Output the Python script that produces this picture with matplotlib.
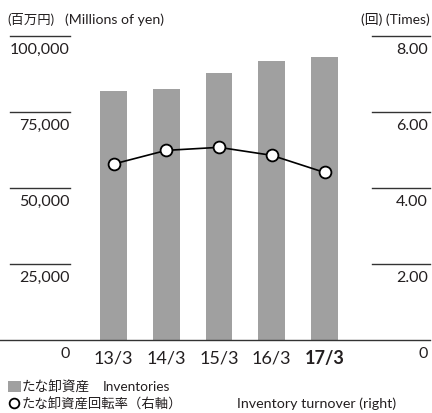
import matplotlib
matplotlib.use("Agg")
import matplotlib.pyplot as plt
from matplotlib.lines import Line2D
import numpy as np

plt.rcParams['font.family'] = ['Lato', 'Noto Sans CJK JP', 'DejaVu Sans']

# data
years = ["13/3", "14/3", "15/3", "16/3", "17/3"]
inventories = [81900, 82600, 87800, 91800, 93100]      # millions of yen
turnover = [4.63, 4.99, 5.07, 4.86, 4.41]              # times (right axis)
left_ticks = [0, 25000, 50000, 75000, 100000]
left_labels = ["0", "25,000", "50,000", "75,000", "100,000"]
right_ticks = [0, 2, 4, 6, 8]
right_labels = ["0", "2.00", "4.00", "6.00", "8.00"]

W, H = 432, 414
fig = plt.figure(figsize=(W/100., H/100.), dpi=100)

y0, y1 = 341, 37
ax = fig.add_axes([0, (H-y0)/H, 1, (y0-y1)/H])
ax.set_axis_off()
step = 52.75
ax.set_xlim(-113.5/step, (W-113.5)/step)
ax.set_ylim(0, 100000)

x = np.arange(len(years))
ax.bar(x, inventories, width=0.51, color="#a0a0a0", zorder=2)

tc = "#231f20"
tr = ax.get_yaxis_transform()
for t, lab in zip(left_ticks, left_labels):
    if t > 0:
        ax.plot([10/W, 70/W], [t, t], color="#333333", lw=1.0, transform=tr, clip_on=False)
    ax.annotate(lab, xy=(70/W, t), xycoords=tr, xytext=(0, -9.3), textcoords="offset points",
                ha="right", va="center", fontsize=11.5, color=tc)
ax.plot([0, 430/W], [0, 0], color="#333333", lw=1.0, transform=tr, clip_on=False, zorder=3)

ax2 = ax.twinx()
ax2.set_axis_off()
ax2.set_ylim(0, 8)
tr2 = ax2.get_yaxis_transform()
for t, lab in zip(right_ticks, right_labels):
    if t > 0:
        ax2.plot([372/W, 430/W], [t, t], color="#333333", lw=1.0, transform=tr2, clip_on=False)
    ax2.annotate(lab, xy=(428/W, t), xycoords=tr2, xytext=(0, -9.3), textcoords="offset points",
                 ha="right", va="center", fontsize=11.5, color=tc)

ax2.plot(x, turnover, color="black", lw=1.2, marker="o", markersize=8.5,
         markerfacecolor="white", markeredgecolor="black", markeredgewidth=1.3, zorder=4)

for i, lab in enumerate(years):
    ax.annotate(lab, xy=(i, 0), xycoords="data", xytext=(0, -12.5), textcoords="offset points",
                ha="center", va="center", fontsize=13, color=tc,
                fontweight="bold" if i == len(years)-1 else "normal")

# header units
fig.text(7/W, 1-20/H, "(百万円)", ha="left", va="center", fontsize=9.6, color=tc)
fig.text(65/W, 1-20/H, "(Millions of yen)", ha="left", va="center", fontsize=10.2, color=tc)
fig.text(430/W, 1-20/H, "(回) (Times)", ha="right", va="center", fontsize=10, color=tc)

# legend
fig.patches.append(plt.Rectangle((8/W, 1-393/H), 13/W, 11/H, transform=fig.transFigure,
                                 facecolor="#a0a0a0", edgecolor="none"))
fig.text(22/W, 1-387/H, "たな卸資産", ha="left", va="center", fontsize=9.8, color=tc)
fig.text(103/W, 1-387/H, "Inventories", ha="left", va="center", fontsize=9.8, color=tc)
fig.add_artist(Line2D([14/W], [1-404/H], transform=fig.transFigure, marker="o", markersize=7,
                      markerfacecolor="white", markeredgecolor="black", markeredgewidth=1.3))
fig.text(22/W, 1-404/H, "たな卸資産回転率（右軸）", ha="left", va="center", fontsize=9.6, color=tc)
fig.text(237/W, 1-404/H, "Inventory turnover (right)", ha="left", va="center", fontsize=10.3, color=tc)

fig.savefig("out.png", dpi=100)
